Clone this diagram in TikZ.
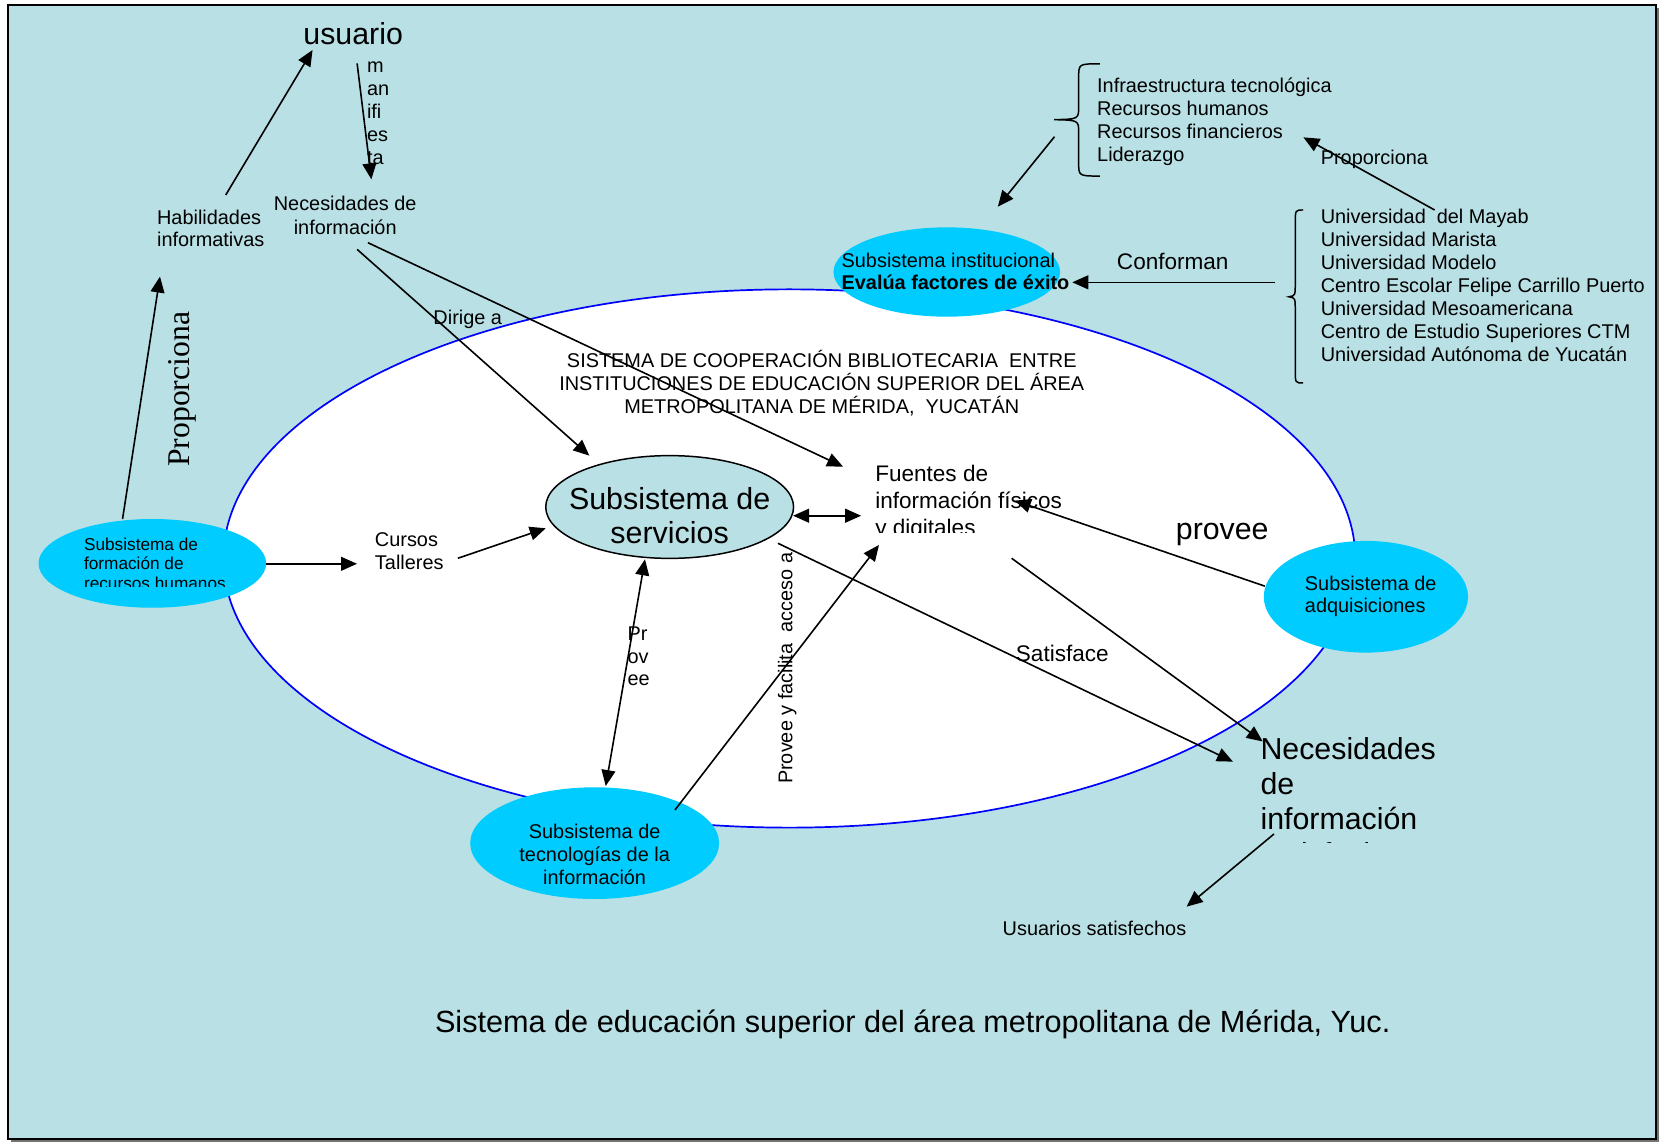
\documentclass[tikz,border=0pt]{standalone}
\usepackage{fontspec}
\setmainfont{Liberation Sans}
\newfontfamily\seriffam{Liberation Serif}
\usetikzlibrary{arrows.meta,shapes.geometric}
\definecolor{bgblue}{RGB}{185,224,228}
\definecolor{cyanfill}{RGB}{0,204,255}
\definecolor{ellblue}{RGB}{0,0,255}
\newcommand\setfs[2]{\fontsize{#1}{#2}\selectfont}
\begin{document}
\begin{tikzpicture}[x=1pt,y=-1pt,
  arr/.style={line width=1.5pt,-{Triangle[length=15pt,width=13pt]}},
  darr/.style={line width=1.5pt,{Triangle[length=15pt,width=13pt]}-{Triangle[length=15pt,width=13pt]}},
  sub/.style={ellipse, fill=cyanfill, draw=none, inner sep=0pt},
  t/.style={inner sep=0pt, outer sep=0pt},
  fS/.style={font=\setfs{18.7}{21.5}},
  fM/.style={font=\setfs{21.2}{25}},
  fL/.style={font=\setfs{28.5}{33}},
  bracestyle/.style={line width=1.4pt}
]
\useasboundingbox (0,0) rectangle (1568,1075);
% background
\fill[black!55] (10,7.5) rectangle (1559.5,1073.5);
\draw[line width=1.6pt, fill=bgblue] (7.5,5) rectangle (1557,1071);
% big system ellipse
\draw[ellblue, fill=white, line width=1.6pt] (742,525) ellipse [x radius=532pt, y radius=253pt];

% subsystem ellipses
\node[sub, minimum width=214pt, minimum height=83.4pt] (form) at (143.2,529.6) {};
\node[sub, minimum width=213pt, minimum height=84pt] (inst) at (890,255.7) {};
\node[sub, minimum width=192pt, minimum height=105pt] (adq) at (1284,561) {};
\node[sub, minimum width=234pt, minimum height=105pt] (tec) at (559,792.6) {};
\node[ellipse, fill=bgblue, draw=black, line width=1.4pt, inner sep=0pt,
      minimum width=233pt, minimum height=96.6pt] (serv) at (629.5,476.6) {};

% braces
\draw[bracestyle] (1034,60) .. controls (1014,60) .. (1014,73) -- (1014,100)
  .. controls (1014,112) .. (991,112.5) .. controls (1014,113) .. (1014,125)
  -- (1014,153) .. controls (1014,165.5) .. (1034,165.5);
\draw[bracestyle] (1225,197.4) .. controls (1217.6,197.4) .. (1217.6,210) -- (1217.6,266)
  .. controls (1217.6,278) .. (1211.7,279) .. controls (1217.6,280) .. (1217.6,292)
  -- (1217.6,348) .. controls (1217.6,360) .. (1225,360);

% texts
\node[t,fL,anchor=base] (usuario) at (332,42) {usuario};
\node[t,fS,anchor=west,align=left] (manif) at (345,106.5) {m\\an\\ifi\\es\\ta};
\node[t,fS,anchor=west,align=left,font=\setfs{18.7}{21}] (habil) at (147.7,214.6) {Habilidades\\informativas};
\node[t,fS,align=center,font=\setfs{18.7}{22}] (necinf) at (324.5,202.5) {Necesidades de\\información};
\node[t,font=\seriffam\setfs{29.8}{30},rotate=90] (propL) at (171.5,366) {Proporciona};
\begin{scope}
  \clip (30,470) rectangle (260,551.5);
  \node[t,font=\setfs{16.2}{18.5},anchor=west,align=left] (formtxt) at (79,530) {Subsistema de\\formación de\\recursos humanos};
\end{scope}
\node[t,fS,anchor=west,align=left] (cursos) at (352.5,518) {Cursos\\Talleres};
\node[t,font=\setfs{28.6}{32},align=center] (servtxt) at (629.5,484.5) {Subsistema de\\servicios};
\begin{scope}
  \clip (815,420) rectangle (1020,501);
  \node[t,fM,anchor=west,align=left] (fuentes) at (822.8,472.5) {Fuentes de\\información físicos\\y digitales};
\end{scope}
\node[t,fS,anchor=base west] (dirige) at (407.5,305.2) {Dirige a};
\node[t,fS,align=center,font=\setfs{18.7}{21.6}] (sistema) at (772.5,360.6) {SISTEMA DE COOPERACIÓN BIBLIOTECARIA~ ENTRE\\INSTITUCIONES DE EDUCACIÓN SUPERIOR DEL ÁREA\\METROPOLITANA DE MÉRIDA,~ YUCATÁN};
\node[t,fS,anchor=west,align=left,font=\setfs{18.7}{21}] (insttxt) at (791.2,255.3) {Subsistema institucional\\\textbf{Evalúa factores de éxito}};
\node[t,fM,anchor=base west] (conforman) at (1050,253.5) {Conforman};
\node[t,fS,anchor=west,align=left] (infra) at (1031.4,114.5) {Infraestructura tecnológica\\Recursos humanos\\Recursos financieros\\Liderazgo};
\node[t,fS,anchor=west,align=left] (univ) at (1241.6,268.3) {Universidad~ del Mayab\\Universidad Marista\\Universidad Modelo\\Centro Escolar Felipe Carrillo Puerto\\Universidad Mesoamericana\\Centro de Estudio Superiores CTM\\Universidad Autónoma de Yucatán};
\node[t,fS,anchor=base west] (propR) at (1241.6,155) {Proporciona};
\node[t,fL,anchor=base west] (provee) at (1105.4,507) {provee};
\node[t,fS,anchor=west,align=left,font=\setfs{18.7}{21}] (adqtxt) at (1226.7,560.5) {Subsistema de\\adquisiciones};
\node[t,fM,anchor=base west] (satisface) at (955,621.5) {Satisface};
\begin{scope}
  \clip (1150,680) rectangle (1430,792);
  \node[t,font=\setfs{28.5}{33.1},anchor=west,align=left] (necsat) at (1185,753) {Necesidades\\de\\información\\satisfechas};
\end{scope}
\node[t,fS,anchor=base west] (ususat) at (942.6,879.3) {Usuarios satisfechos};
\node[t,fS,align=center,font=\setfs{18.7}{21.4}] (tectxt) at (559,803.4) {Subsistema de\\tecnologías de la\\información};
\node[t,fS,anchor=west,align=left,font=\setfs{18.7}{21.3}] (provee2) at (590,617) {Pr\\ov\\ee};
\node[t,fS,rotate=90] (facilita) at (740,628.3) {Provee y facilita~ acceso a};
\node[t,font=\setfs{28.8}{33},anchor=base] (bottom) at (858,970.5) {Sistema de educación superior del área metropolitana de Mérida, Yuc.};

% connector end points
\coordinate (habOut) at (212.2,183.3);
\coordinate (usuIn) at (293.8,47);
\coordinate (usuOut) at (335.7,59.6);
\coordinate (necIn) at (349.1,168.6);
\coordinate (formUp) at (115.2,487.9);
\coordinate (habIn) at (150.4,260);
\coordinate (formR) at (250,530);
\coordinate (cursIn) at (335.6,530);
\coordinate (cursOut) at (430.4,524.8);
\coordinate (servW) at (513,496.6);
\coordinate (necOutA) at (335.7,234.4);
\coordinate (servNW) at (554,428.3);
\coordinate (necOutB) at (345.8,228.1);
\coordinate (fuenNW) at (792.5,438.7);
\coordinate (servE) at (745.5,484.8);
\coordinate (fuenW) at (809.5,484.8);
\coordinate (servS) at (606.3,525.8);
\coordinate (tecN) at (569.4,738.9);
\coordinate (tecNE) at (634.5,761.4);
\coordinate (fuenS) at (826.3,512.3);
\coordinate (adqW) at (1189,551);
\coordinate (fuenE) at (954,470.6);
\coordinate (fuenSE) at (951,524.8);
\coordinate (nsatA) at (1187,697);
\coordinate (servSE) at (731.3,510.7);
\coordinate (nsatB) at (1159,716);
\coordinate (nsatOut) at (1197.6,784);
\coordinate (ususIn) at (1115.5,852.3);
\coordinate (univOut) at (1198.4,265.4);
\coordinate (instE) at (1008,265.4);
\coordinate (braceTip) at (991.3,128.5);
\coordinate (instN) at (938,194.3);
\coordinate (univTop) at (1348.6,197.4);
\coordinate (recIn) at (1225.2,129.1);

% connectors
\draw[arr] (habOut) -- (usuIn);
\draw[arr] (usuOut) -- (necIn);
\draw[arr] (formUp) -- (habIn);
\draw[arr] (formR) -- (cursIn);
\draw[arr] (cursOut) -- (servW);
\draw[arr] (necOutA) -- (servNW);
\draw[arr] (necOutB) -- (fuenNW);
\draw[darr] (servE) -- (fuenW);
\draw[darr] (servS) -- (tecN);
\draw[arr] (tecNE) -- (fuenS);
\draw[arr] (adqW) -- (fuenE);
\draw[arr] (fuenSE) -- (nsatA);
\draw[arr] (servSE) -- (nsatB);
\draw[arr] (nsatOut) -- (ususIn);
\draw[arr] (univOut) -- (instE);
\draw[arr] (braceTip) -- (instN);
\draw[arr] (univTop) -- (recIn);
\end{tikzpicture}
\end{document}
